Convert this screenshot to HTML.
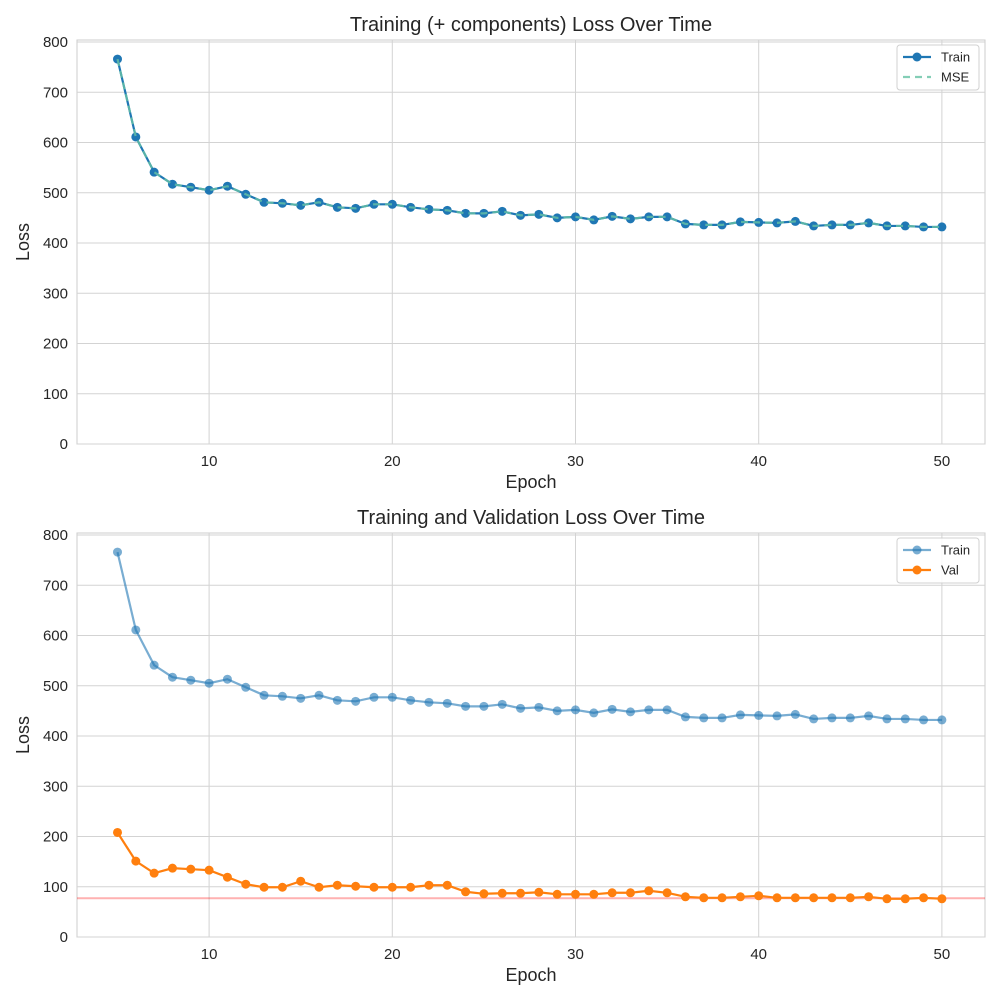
<!DOCTYPE html>
<html><head><meta charset="utf-8"><style>
body{margin:0;background:#fff;font-family:"Liberation Sans",sans-serif}
svg text{font-family:"Liberation Sans",sans-serif;fill:#262626}
</style></head><body>
<svg id="c" width="1000" height="1000" xmlns="http://www.w3.org/2000/svg"></svg>
<script>
const epochs=[];for(let e=5;e<=50;e++)epochs.push(e);
const trainLoss=[766,611,541,517,511,505,513,497,481,479,475,481,471,469,477,477,471,467,465,459,459,463,455,457,450,452,446,453,448,452,452,438,436,436,442,441,440,443,434,436,436,440,434,434,432,432];
const mseLoss=trainLoss.slice();
const valLoss=[208,151,127,137,135,133,119,105,99,99,111,99,103,101,99,99,99,103,103,90,86,87,87,89,85,85,85,88,88,92,88,80,78,78,80,82,78,78,78,78,78,80,76,76,78,76];
const bestVal=77;
const xTicks=[10,20,30,40,50];
const yTicks=[0,100,200,300,400,500,600,700,800];
const NS="http://www.w3.org/2000/svg";
const svg=document.getElementById('c');
function el(t,a,p){const e=document.createElementNS(NS,t);for(const k in a)e.setAttribute(k,a[k]);(p||svg).appendChild(e);return e;}
function panel(top,title,name){
  const L=77,R=985,T=top,B=top+404;
  const g=el('g',{});
  
  
  const x=v=>117.5+(v-5)*18.32;
  const y=v=>B-v*0.5025;
  el('rect',{x:L,y:T,width:R-L,height:B-T,fill:'#fff',stroke:'#ccc','stroke-width':1},g);
  xTicks.forEach(t=>{el('line',{x1:x(t),x2:x(t),y1:T,y2:B,stroke:'#d3d3d3'},g);
    const tx=el('text',{x:x(t),y:B+22,'text-anchor':'middle','font-size':15},g);tx.textContent=t;
    });
  yTicks.forEach(t=>{el('line',{x1:L,x2:R,y1:y(t),y2:y(t),stroke:'#d3d3d3'},g);
    const tx=el('text',{x:L-9,y:y(t)+5,'text-anchor':'end','font-size':15},g);tx.textContent=t;
    });
  const tt=el('text',{x:(L+R)/2,y:T-9,'text-anchor':'middle','font-size':20},g);tt.textContent=title;
  
  const xl=el('text',{x:(L+R)/2,y:B+44,'text-anchor':'middle','font-size':18},g);xl.textContent='Epoch';
  
  const yl=el('text',{x:29,y:(T+B)/2,'text-anchor':'middle','font-size':18,transform:`rotate(-90 29 ${(T+B)/2})`},g);yl.textContent='Loss';
  
  return {g,x,y,L,R,T,B};
}
function series(p,vals,color,opts){
  const pts=vals.map((v,i)=>p.x(epochs[i])+','+p.y(v)).join(' ');
  const pl=el('polyline',{points:pts,fill:'none',stroke:color,'stroke-width':2.2,opacity:opts.op||1,'stroke-dasharray':opts.dash||'none'},p.g);
  
  if(opts.marker)vals.forEach((v,i)=>{const c=el('circle',{cx:p.x(epochs[i]),cy:p.y(v),r:4.5,fill:color,opacity:opts.op||1},p.g);
    });
}
function legend(p,items){
  const lg=el('g',{},p.g);
  
  el('rect',{x:897,y:p.T+5,width:82,height:45,rx:3,fill:'#fff',stroke:'#ccc',opacity:0.9},lg);
  items.forEach((it,i)=>{const yy=p.T+17+i*20;
    el('line',{x1:903,x2:931,y1:yy,y2:yy,stroke:it.c,'stroke-width':2.2,'stroke-dasharray':it.dash||'none',opacity:it.op||1},lg);
    if(it.m)el('circle',{cx:917,cy:yy,r:4.5,fill:it.c,opacity:it.op||1},lg);
    const t=el('text',{x:941,y:yy+4.5,'font-size':13},lg);t.textContent=it.t;
    });
}
const p1=panel(40,'Training (+ components) Loss Over Time','top-chart');
series(p1,trainLoss,'#1f77b4',{marker:true,name:'train'});
series(p1,mseLoss,'#66c2a5',{dash:'7,5',name:'mse',op:0.8});
legend(p1,[{t:'Train',c:'#1f77b4',m:true},{t:'MSE',c:'#66c2a5',dash:'7,5',op:0.8}]);
const p2=panel(533,'Training and Validation Loss Over Time','bottom-chart');
const bl=el('line',{x1:p2.L,x2:p2.R,y1:p2.y(bestVal),y2:p2.y(bestVal),stroke:'red','stroke-width':2,opacity:0.3},p2.g);

series(p2,trainLoss,'#1f77b4',{marker:true,name:'train',op:0.6});
series(p2,valLoss,'#ff7f0e',{marker:true,name:'val'});
legend(p2,[{t:'Train',c:'#1f77b4',m:true,op:0.6},{t:'Val',c:'#ff7f0e',m:true}]);
</script>
</body></html>
